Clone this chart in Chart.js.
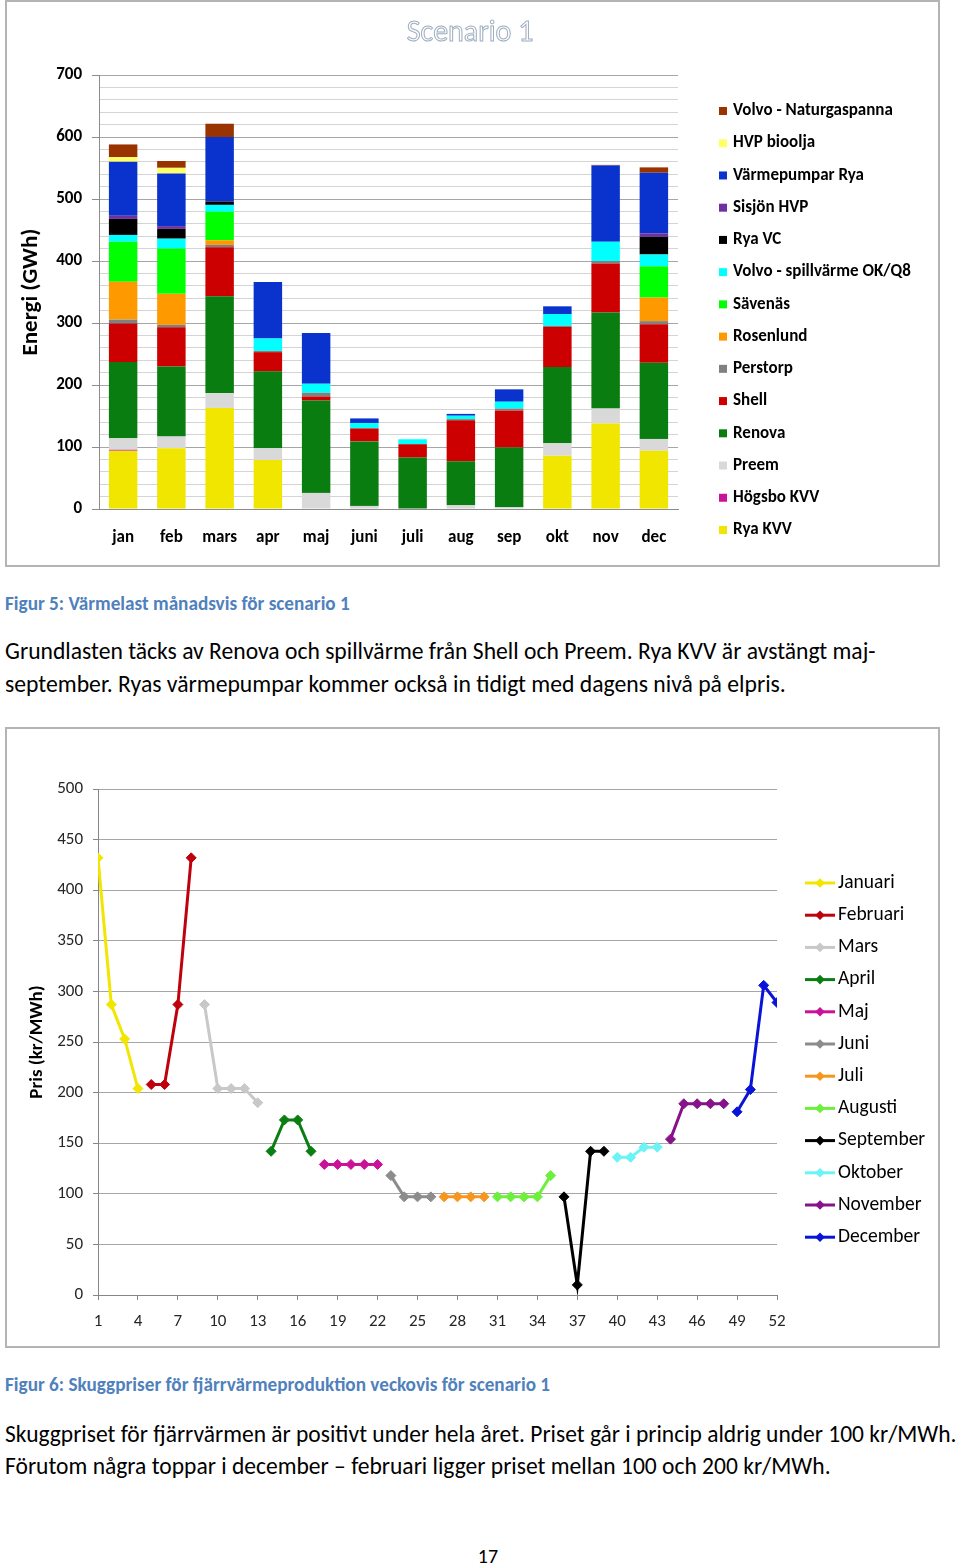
<!DOCTYPE html>
<html>
<head>
<meta charset="utf-8">
<script src="https://cdn.jsdelivr.net/npm/chart.js@4.4.1/dist/chart.umd.min.js"></script>
<style>
  body { margin: 0; background: #fff; }
  #page { position: relative; width: 960px; height: 1566px; overflow: hidden; font-family: Calibri, Lato, "Open Sans", sans-serif; }
  canvas { position: absolute; left: 0; }
  .frame { position: absolute; box-sizing: border-box; border: 2px solid #b4b4b4; pointer-events: none; }
  .line { position: absolute; left: 5px; width: max-content; white-space: nowrap; line-height: 30px; color: #000; }
  .caption { font-weight: bold; color: #4f81bd; }
</style>
</head>
<body>
<div id="page">
  <canvas id="energy" width="960" height="566" style="top:0"></canvas>
  <div class="frame" style="left:5px;top:0;width:935px;height:567px"></div>

  <div class="line caption" data-size="16" data-w="345" data-base="611">Figur 5: Värmelast månadsvis för scenario 1</div>
  <div class="line" data-size="21" data-w="871" data-base="660">Grundlasten täcks av Renova och spillvärme från Shell och Preem. Rya KVV är avstängt maj-</div>
  <div class="line" data-size="21" data-w="781" data-base="693">september. Ryas värmepumpar kommer också in tidigt med dagens nivå på elpris.</div>

  <canvas id="price" width="960" height="620" style="top:727px"></canvas>
  <div class="frame" style="left:5px;top:727px;width:935px;height:621px"></div>

  <div class="line caption" data-size="16" data-w="545" data-base="1392">Figur 6: Skuggpriser för fjärrvärmeproduktion veckovis för scenario 1</div>
  <div class="line" data-size="21" data-w="952" data-base="1443">Skuggpriset för fjärrvärmen är positivt under hela året. Priset går i princip aldrig under 100 kr/MWh.</div>
  <div class="line" data-size="21" data-w="826" data-base="1475">Förutom några toppar i december – februari ligger priset mellan 100 och 200 kr/MWh.</div>

  <div id="pageno" style="position:absolute;left:468px;width:40px;text-align:center;font-size:20px;line-height:30px;top:1541px">17</div>
</div>

<script>
// ---- Figur 5: monthly heat load (GWh), stacked bottom -> top
var months = ['jan', 'feb', 'mars', 'apr', 'maj', 'juni', 'juli', 'aug', 'sep', 'okt', 'nov', 'dec'];

var ryaKvv        = [94, 98, 163, 79, 0, 0, 0, 0, 0, 86, 138, 94];
var hogsboKvv     = [1.5, 0, 0, 0, 0, 0, 0, 0, 0, 0, 0, 0];
var preem         = [18.5, 19, 24, 19, 26, 5, 0, 6, 3, 20, 24, 19];
var renova        = [123, 113, 156, 124, 149, 104, 83, 71, 96, 123, 155, 123];
var shell         = [62, 63, 79, 31, 6.5, 21, 21.5, 66, 60, 64.5, 79, 62];
var perstorp      = [6.5, 4, 4, 2, 6, 0, 0, 2, 3, 2, 4, 5];
var rosenlund     = [61, 50, 7.5, 0, 0, 0, 0, 0, 0, 0, 0, 38];
var savenas       = [64.5, 73, 46, 0, 0, 0, 0, 0, 0, 0, 0, 50.5];
var volvoSpill    = [11, 16, 11, 20, 14.5, 8.6, 8, 5.4, 11, 19, 31, 19];
var ryaVc         = [26, 16, 5.4, 0, 0, 0, 0, 0, 0, 0, 0, 28.5];
var sisjonHvp     = [5, 4.3, 0, 0, 0, 0, 0, 0, 0, 0, 0, 5.4];
var varmepumpar   = [87, 85, 104, 91, 82, 7.5, 0, 3, 20, 12.4, 123, 98];
var hvpBioolja    = [7.5, 9, 0, 0, 0, 0, 0, 0, 0, 0, 0, 0];
var volvoNaturgas = [20.5, 11, 21.5, 0, 0, 0, 0, 0, 0, 0, 1, 8.6];

var energyNames = ['Rya KVV', 'Högsbo KVV', 'Preem', 'Renova', 'Shell', 'Perstorp', 'Rosenlund', 'Sävenäs',
  'Volvo - spillvärme OK/Q8', 'Rya VC', 'Sisjön HVP', 'Värmepumpar Rya', 'HVP bioolja', 'Volvo - Naturgaspanna'];
var energyValues = [ryaKvv, hogsboKvv, preem, renova, shell, perstorp, rosenlund, savenas,
  volvoSpill, ryaVc, sisjonHvp, varmepumpar, hvpBioolja, volvoNaturgas];
var energyColors = ['#f0e600', '#cc1199', '#d9d9d9', '#0a7d10', '#cc0000', '#808080', '#ff9900', '#00ff00',
  '#00ffff', '#000000', '#7030a0', '#0a32cc', '#ffff66', '#993300'];

// ---- Figur 6: weekly shadow price (kr/MWh), one line per month
var monthNames = ['Januari', 'Februari', 'Mars', 'April', 'Maj', 'Juni', 'Juli', 'Augusti', 'September', 'Oktober', 'November', 'December'];
var weekNo = [[1, 2, 3, 4], [5, 6, 7, 8], [9, 10, 11, 12, 13], [14, 15, 16, 17], [18, 19, 20, 21, 22], [23, 24, 25, 26],
  [27, 28, 29, 30], [31, 32, 33, 34, 35], [36, 37, 38, 39], [40, 41, 42, 43], [44, 45, 46, 47, 48], [49, 50, 51, 52]];
var januari   = [432, 287, 253, 204];
var februari  = [208, 208, 287, 432];
var mars      = [287, 204, 204, 204, 190];
var april     = [142, 173, 173, 142];
var maj       = [129, 129, 129, 129, 129];
var juni      = [118, 97, 97, 97];
var juli      = [97, 97, 97, 97];
var augusti   = [97, 97, 97, 97, 118];
var september = [97, 10, 142, 142];
var oktober   = [136, 136, 146, 146];
var november  = [154, 189, 189, 189, 189];
var december  = [181, 203, 306, 289];
var prices = [januari, februari, mars, april, maj, juni, juli, augusti, september, oktober, november, december];
var priceColors = ['#f2e600', '#c0000c', '#c8c8c8', '#0a7e12', '#cc1199', '#8c8c8c', '#f7961e', '#6cf03c',
  '#000000', '#6cf3f5', '#87128a', '#0a14d8'];
var weekTicks = [1, 4, 7, 10, 13, 16, 19, 22, 25, 28, 31, 34, 37, 40, 43, 46, 49, 52];

var FONT = 'Calibri, Lato, "Open Sans", sans-serif';
Chart.defaults.font.family = FONT;

// outlined "WordArt" style chart title
var wordArt = {
  id: 'wordArt',
  afterDraw: function(chart, args, opts) {
    if (!opts.text) return;
    var ctx = chart.ctx;
    ctx.save();
    ctx.font = '30px ' + FONT;
    ctx.textAlign = 'center';
    ctx.textBaseline = 'middle';
    ctx.fillStyle = '#ffffff';
    ctx.fillText(opts.text, opts.x, opts.y);
    ctx.lineWidth = 1;
    ctx.strokeStyle = '#9eadc0';
    ctx.strokeText(opts.text, opts.x, opts.y);
    ctx.restore();
  }
};

// single column legend at a fixed place right of the plot
var sideLegend = {
  id: 'sideLegend',
  afterDraw: function(chart, args, o) {
    var ctx = chart.ctx;
    var sets = chart.data.datasets.slice();
    if (o.reverse) sets.reverse();
    ctx.save();
    ctx.font = o.font;
    ctx.textAlign = 'left';
    ctx.textBaseline = 'middle';
    sets.forEach(function(ds, i) {
      var y = o.y + i * o.spacing;
      var c = ds.backgroundColor;
      if (o.marker === 'line') {
        ctx.strokeStyle = c;
        ctx.lineWidth = 3;
        ctx.beginPath();
        ctx.moveTo(o.x, y);
        ctx.lineTo(o.x + o.w, y);
        ctx.stroke();
        var cx = o.x + o.w / 2, r = o.r;
        ctx.fillStyle = c;
        ctx.beginPath();
        ctx.moveTo(cx, y - r);
        ctx.lineTo(cx + r, y);
        ctx.lineTo(cx, y + r);
        ctx.lineTo(cx - r, y);
        ctx.closePath();
        ctx.fill();
      } else {
        ctx.fillStyle = c;
        ctx.fillRect(o.x, y - o.h / 2, o.w, o.h);
      }
      ctx.fillStyle = o.color;
      ctx.fillText(ds.label, o.textX, y);
    });
    ctx.restore();
  }
};

new Chart(document.getElementById('energy'), {
  type: 'bar',
  data: {
    labels: months,
    datasets: energyNames.map(function(name, i) {
      return {
        label: name,
        data: energyValues[i],
        backgroundColor: energyColors[i],
        borderWidth: 0,
        barPercentage: 0.59,
        categoryPercentage: 1
      };
    })
  },
  options: {
    responsive: false,
    animation: false,
    devicePixelRatio: 1,
    layout: { padding: { left: 12, right: 282, top: 75, bottom: 0 } },
    plugins: {
      legend: { display: false },
      tooltip: { enabled: false },
      wordArt: { text: 'Scenario 1', x: 470, y: 33 },
      sideLegend: { reverse: true, x: 719, w: 8, h: 8, textX: 733, y: 111, spacing: 32.23,
        font: 'bold 17px ' + FONT, color: '#000' }
    },
    scales: {
      x: {
        stacked: true,
        grid: { display: false, drawTicks: false },
        border: { color: '#8c8c8c' },
        ticks: { color: '#000', padding: 18.8, font: { size: 17, weight: 'bold' } },
        afterFit: function(s) { s.height = 57; }
      },
      y: {
        stacked: true,
        min: 0,
        max: 700,
        grid: {
          tickLength: 7,
          color: function(c) { return c.tick && c.tick.value % 100 === 0 ? '#a6a6a6' : '#d4d4d4'; },
          tickColor: function(c) { return c.tick && c.tick.value % 100 === 0 ? '#8c8c8c' : 'rgba(0,0,0,0)'; }
        },
        border: { color: '#8c8c8c' },
        ticks: {
          stepSize: 20,
          autoSkip: false,
          padding: 10,
          color: '#000',
          font: { size: 17, weight: 'bold' },
          callback: function(v) { return v % 100 === 0 ? v : ''; }
        },
        title: { display: true, text: 'Energi (GWh)', color: '#000', font: { size: 23, weight: 'bold' }, padding: { top: 5.2, bottom: 0 } },
        afterFit: function(s) { s.width = 87; }
      }
    }
  },
  plugins: [wordArt, sideLegend]
});

new Chart(document.getElementById('price'), {
  type: 'line',
  data: {
    datasets: monthNames.map(function(name, i) {
      return {
        label: name,
        data: weekNo[i].map(function(w, j) { return { x: w, y: prices[i][j] }; }),
        borderColor: priceColors[i],
        backgroundColor: priceColors[i],
        borderWidth: 3,
        pointStyle: 'rectRot',
        pointRadius: 5,
        pointBorderWidth: 1,
        tension: 0
      };
    })
  },
  options: {
    responsive: false,
    animation: false,
    devicePixelRatio: 1,
    layout: { padding: { left: 20, right: 183, top: 62, bottom: 16 } },
    plugins: {
      legend: { display: false },
      tooltip: { enabled: false },
      sideLegend: { marker: 'line', x: 805, w: 30, r: 4.8, textX: 838, y: 156, spacing: 32.2,
        font: '19.5px ' + FONT, color: '#000' }
    },
    scales: {
      x: {
        type: 'linear',
        min: 1,
        max: 52,
        afterBuildTicks: function(s) { s.ticks = weekTicks.map(function(v) { return { value: v }; }); },
        grid: { drawOnChartArea: false, drawTicks: true, tickLength: 5, color: '#868686' },
        border: { color: '#868686' },
        ticks: { autoSkip: false, maxRotation: 0, padding: 11.8, color: '#262626', font: { size: 17 } },
        afterFit: function(s) { s.height = 36; }
      },
      y: {
        min: 0,
        max: 500,
        grid: { color: '#a6a6a6', tickLength: 5, tickColor: '#868686' },
        border: { color: '#868686' },
        ticks: { stepSize: 50, padding: 10, color: '#262626', font: { size: 17 } },
        title: { display: true, text: 'Pris (kr/MWh)', color: '#000', font: { size: 19, weight: 'bold' }, padding: { top: 5.6, bottom: 0 } },
        afterFit: function(s) { s.width = 78; }
      }
    }
  },
  plugins: [sideLegend]
});

// fit each text line to the width it has on the page, then place its baseline
document.querySelectorAll('.line').forEach(function(el) {
  var base = parseFloat(el.dataset.size);
  el.style.fontSize = base + 'px';
  var w = el.getBoundingClientRect().width;
  var f = base * parseFloat(el.dataset.w) / w;
  el.style.fontSize = f + 'px';
  el.style.top = (parseFloat(el.dataset.base) - 15 - 0.387 * f) + 'px';
});
</script>
</body>
</html>
